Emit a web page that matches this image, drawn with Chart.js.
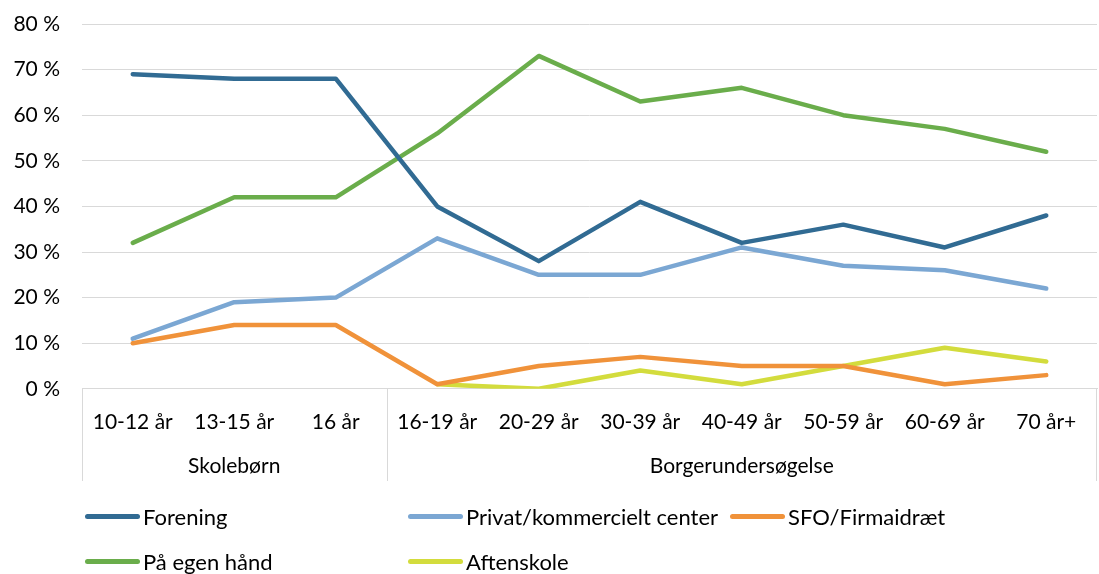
<!DOCTYPE html>
<html>
<head>
<meta charset="utf-8">
<script src="https://cdn.jsdelivr.net/npm/chart.js@4/dist/chart.umd.min.js"></script>
<style>
  html, body { margin: 0; padding: 0; background: #fff; }
  #wrap { position: relative; width: 1099px; height: 574px; font-family: Lato, 'Open Sans', sans-serif; }
  #chart { display: block; }
  #legend { position: absolute; left: 0; top: 0; width: 1099px; height: 574px; pointer-events: none; }
  .li { position: absolute; display: flex; align-items: center; font-size: 22px; color: #000; white-space: nowrap; }
  .sw { display: inline-block; width: 55px; height: 5px; border-radius: 3px; margin-right: 3px; }
</style>
</head>
<body>
<div id="wrap">
  <canvas id="chart" width="1099" height="574"></canvas>
  <div id="legend"></div>
</div>
<script>
// ── data ──────────────────────────────────────────────────────────────────────
var categories = ['10-12 år', '13-15 år', '16 år', '16-19 år', '20-29 år', '30-39 år', '40-49 år', '50-59 år', '60-69 år', '70 år+'];
var groups = [
  { label: 'Skolebørn', from: 0, to: 2 },
  { label: 'Borgerundersøgelse', from: 3, to: 9 }
];
var forening   = [69, 68, 68, 40, 28, 41, 32, 36, 31, 38];
var privat     = [11, 19, 20, 33, 25, 25, 31, 27, 26, 22];
var sfo        = [10, 14, 14, 1, 5, 7, 5, 5, 1, 3];
var egenHaand  = [32, 42, 42, 56, 73, 63, 66, 60, 57, 52];
var aftenskole = [null, null, null, 1, 0, 4, 1, 5, 9, 6];
var yTicks = [0, 10, 20, 30, 40, 50, 60, 70, 80];

var FONT = 'Lato, "Open Sans", sans-serif';
var gridColor = '#d9d9d9';

var series = [
  { label: 'Forening', data: forening, color: '#316b93', lx: 85, ly: 517 },
  { label: 'Privat/kommercielt center', data: privat, color: '#7ba7d3', lx: 408, ly: 517 },
  { label: 'SFO/Firmaidræt', data: sfo, color: '#f0923a', lx: 730, ly: 517 },
  { label: 'På egen hånd', data: egenHaand, color: '#6aad4b', lx: 85, ly: 562 },
  { label: 'Aftenskole', data: aftenskole, color: '#d3dc3d', lx: 408, ly: 562 }
];

// group labels + separators under the category axis
var groupAxis = {
  id: 'groupAxis',
  afterDraw: function(chart) {
    var x = chart.scales.x, ctx = chart.ctx;
    var top = chart.chartArea.bottom, bottom = 481;
    var step = x.getPixelForValue(1) - x.getPixelForValue(0);
    ctx.save();
    ctx.strokeStyle = gridColor;
    ctx.lineWidth = 1;
    ctx.font = '21px ' + FONT;
    ctx.fillStyle = '#000';
    ctx.textAlign = 'center';
    ctx.textBaseline = 'middle';
    for (var i = 0; i < groups.length; i++) {
      var g = groups[i];
      var l = x.getPixelForValue(g.from) - step / 2;
      var r = x.getPixelForValue(g.to) + step / 2;
      ctx.beginPath();
      ctx.moveTo(Math.round(l) + 0.5, top);
      ctx.lineTo(Math.round(l) + 0.5, bottom);
      if (i === groups.length - 1) {
        ctx.moveTo(Math.round(r) - 0.5, top);
        ctx.lineTo(Math.round(r) - 0.5, bottom);
      }
      ctx.stroke();
      ctx.fillText(g.label, (l + r) / 2, 466);
    }
    ctx.restore();
  }
};

new Chart(document.getElementById('chart'), {
  type: 'line',
  data: {
    labels: categories,
    datasets: series.map(function(s) {
      return {
        label: s.label,
        data: s.data,
        borderColor: s.color,
        backgroundColor: s.color,
        borderWidth: 4.5,
        pointRadius: 0,
        tension: 0,
        borderJoinStyle: 'round',
        borderCapStyle: 'round',
        spanGaps: false
      };
    })
  },
  options: {
    responsive: false,
    animation: false,
    layout: { padding: { left: 0, right: 2, top: 24, bottom: 118 } },
    plugins: { legend: { display: false }, tooltip: { enabled: false } },
    scales: {
      x: {
        offset: true,
        grid: { display: false, drawTicks: false },
        border: { color: gridColor, width: 1 },
        ticks: { color: '#000', font: { family: FONT, size: 21 }, padding: 21, maxRotation: 0, autoSkip: false }
      },
      y: {
        min: 0,
        max: 80,
        afterBuildTicks: function(s) { s.ticks = yTicks.map(function(v) { return { value: v }; }); },
        afterFit: function(s) { s.width = 82; s.paddingTop = 0; s.paddingBottom = 0; },
        grid: { color: gridColor, lineWidth: 1, drawTicks: false },
        border: { display: false },
        ticks: {
          color: '#000',
          font: { family: FONT, size: 21 },
          padding: 22,
          callback: function(v) { return v + ' %'; }
        }
      }
    }
  },
  plugins: [groupAxis]
});

// legend laid out like the original: fixed columns, two rows
var leg = document.getElementById('legend');
series.forEach(function(s) {
  var d = document.createElement('div');
  d.className = 'li';
  d.style.left = s.lx + 'px';
  d.style.top = (s.ly - 14) + 'px';
  d.innerHTML = '<span class="sw" style="background:' + s.color + '"></span>' + s.label;
  leg.appendChild(d);
});
</script>
</body>
</html>
